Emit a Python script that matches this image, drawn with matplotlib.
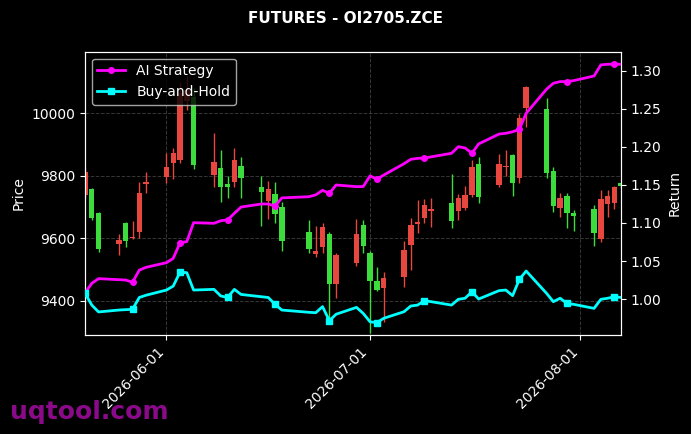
import matplotlib
matplotlib.use("Agg")
import matplotlib.pyplot as plt
import matplotlib.dates as mdates
from matplotlib.ticker import MultipleLocator, FormatStrFormatter
import numpy as np
import pandas as pd

dates = ["2026-05-20", "2026-05-21", "2026-05-22", "2026-05-25", "2026-05-26", "2026-05-27",
         "2026-05-28", "2026-05-29", "2026-06-01", "2026-06-02", "2026-06-03", "2026-06-04",
         "2026-06-05", "2026-06-08", "2026-06-09", "2026-06-10", "2026-06-11", "2026-06-12",
         "2026-06-15", "2026-06-16", "2026-06-17", "2026-06-18", "2026-06-22", "2026-06-23",
         "2026-06-24", "2026-06-25", "2026-06-26", "2026-06-29", "2026-06-30", "2026-07-01",
         "2026-07-02", "2026-07-03", "2026-07-06", "2026-07-07", "2026-07-08", "2026-07-09",
         "2026-07-10", "2026-07-13", "2026-07-14", "2026-07-15", "2026-07-16", "2026-07-17",
         "2026-07-20", "2026-07-21", "2026-07-22", "2026-07-23", "2026-07-24", "2026-07-27",
         "2026-07-28", "2026-07-29", "2026-07-30", "2026-07-31", "2026-08-03", "2026-08-04",
         "2026-08-05", "2026-08-06", "2026-08-07"]

opens = [9738, 9757, 9681, 9580, 9649, 9600, 9619, 9775, 9797, 9842, 9850, 10040,
         10053, 9802, 9826, 9774, 9781, 9831, 9763, 9720, 9742, 9701, 9620, 9550,
         9573, 9612, 9452, 9521, 9642, 9553, 9463, 9442, 9477, 9579, 9646, 9666,
         9688, 9712, 9687, 9696, 9738, 9838, 9769, 9827, 9866, 9794, 10018, 10013,
         9815, 9698, 9736, 9680, 9693, 9598, 9710, 9714, 9776]
highs = [9825, 9760, 9684, 9612, 9652, 9655, 9781, 9811, 9872, 9890, 10100, 10120,
         10080, 9938, 9882, 9799, 9889, 9860, 9799, 9784, 9779, 9717, 9657, 9639,
         9648, 9621, 9554, 9660, 9658, 9560, 9509, 9493, 9592, 9664, 9722, 9725,
         9730, 9806, 9742, 9767, 9850, 9861, 9870, 9882, 9868, 9998, 10088, 10048,
         9827, 9744, 9744, 9690, 9705, 9754, 9754, 9767, 9780]
lows = [9730, 9658, 9557, 9546, 9573, 9597, 9600, 9744, 9776, 9790, 9840, 10010,
        9822, 9765, 9717, 9729, 9765, 9730, 9639, 9660, 9650, 9560, 9553, 9539,
        9552, 9327, 9408, 9511, 9552, 9295, 9432, 9333, 9443, 9498, 9616, 9650,
        9637, 9634, 9659, 9690, 9733, 9712, 9765, 9799, 9735, 9778, 9955, 9792,
        9685, 9669, 9632, 9624, 9575, 9589, 9669, 9693, 9760]
closes = [9813, 9664, 9564, 9594, 9591, 9603, 9744, 9780, 9829, 9874, 10065, 10075,
          9835, 9844, 9765, 9763, 9850, 9794, 9747, 9757, 9677, 9592, 9566, 9559,
          9637, 9452, 9545, 9612, 9574, 9462, 9434, 9472, 9562, 9641, 9652, 9706,
          9692, 9656, 9730, 9738, 9829, 9733, 9838, 9831, 9778, 9984, 10084, 9810,
          9703, 9728, 9680, 9672, 9618, 9725, 9735, 9763, 9767]

strategy = [1.008, 1.0206, 1.0268, 1.0254, 1.025, 1.022, 1.038, 1.0417, 1.0478, 1.0535,
            1.074, 1.0755, 1.1004, 1.0996, 1.103, 1.104, 1.1127, 1.121, 1.125, 1.125,
            1.1224, 1.133, 1.1346, 1.137, 1.143, 1.139, 1.150, 1.1478, 1.148, 1.162,
            1.1575, 1.163, 1.178, 1.1838, 1.185, 1.1855, 1.187, 1.1917, 1.2004, 1.1987,
            1.1917, 1.204, 1.217, 1.218, 1.220, 1.2233, 1.2443, 1.276, 1.2838, 1.286,
            1.286, 1.2873, 1.2934, 1.308, 1.3088, 1.309, 1.3088]
buyhold = [1.0077, 0.992, 0.983, 0.9855, 0.986, 0.9865, 1.002, 1.005, 1.0118, 1.017,
           1.0355, 1.0346, 1.0118, 1.0127, 1.004, 1.002, 1.0127, 1.006, 1.003, 1.002,
           0.993, 0.9855, 0.9825, 0.982, 0.990, 0.9715, 0.980, 0.989, 0.981, 0.970,
           0.969, 0.9746, 0.9833, 0.9908, 0.992, 0.9978, 0.9965, 0.992, 0.9996, 1.001,
           1.0096, 1.000, 1.011, 1.0118, 1.0044, 1.026, 1.0368, 1.0075, 0.9965, 1.001,
           0.9943, 0.993, 0.9877, 0.9996, 1.001, 1.003, 1.002]

title = "FUTURES - OI2705.ZCE"
up_color = "#e8473f"
down_color = "#3ddc3d"

x = mdates.date2num(pd.to_datetime(dates))
o = np.array(opens, float); h = np.array(highs, float)
l = np.array(lows, float); c = np.array(closes, float)

fig = plt.figure(figsize=(6.91, 4.34), dpi=100, facecolor="black")
ax = fig.add_axes([0.123, 0.228, 0.776, 0.653])
ax.set_facecolor("black")

colors = [up_color if cc >= oo else down_color for oo, cc in zip(o, c)]
ax.vlines(x, l, h, colors=colors, linewidth=1.0, zorder=2)
bottoms = np.minimum(o, c)
heights = np.maximum(np.abs(c - o), 3.0)
ax.bar(x, heights, bottom=bottoms, width=0.8, color=colors, edgecolor=colors,
       linewidth=0, zorder=3)

ax.set_xlim(x[0], x[-1])
ax.set_ylim(9290, 10197)
ax.yaxis.set_major_locator(MultipleLocator(200))
ax.xaxis.set_major_locator(mdates.MonthLocator())
ax.xaxis.set_major_formatter(mdates.DateFormatter("%Y-%m-%d"))
ax.grid(True, linestyle="--", color="#777777", alpha=0.45, linewidth=0.7)
ax.set_axisbelow(True)
ax.set_ylabel("Price", color="white", fontsize=10)
ax.tick_params(colors="white", labelsize=10)
for lab in ax.get_xticklabels():
    lab.set_rotation(45)
    lab.set_ha("right")
for sp in ax.spines.values():
    sp.set_color("white")

ax2 = ax.twinx()
ax2.plot(x, strategy, color="#ff00ff", linewidth=2, marker="o", markersize=4,
         markevery=5, label="AI Strategy", zorder=4)
ax2.plot(x, buyhold, color="#00ffff", linewidth=2, marker="s", markersize=4,
         markevery=5, label="Buy-and-Hold", zorder=4)
ax2.set_ylim(0.9526, 1.3254)
ax2.yaxis.set_major_locator(MultipleLocator(0.05))
ax2.yaxis.set_major_formatter(FormatStrFormatter("%.2f"))
ax2.set_ylabel("Return", color="white", fontsize=10)
ax2.tick_params(colors="white", labelsize=10)
for sp in ax2.spines.values():
    sp.set_color("white")

leg = ax2.legend(loc="upper left", fontsize=10, facecolor="black", edgecolor="#cccccc",
                 framealpha=0.8)
for t in leg.get_texts():
    t.set_color("white")

fig.suptitle(title, color="white", fontsize=11, fontweight="bold", y=0.975)
fig.text(0.014, 0.035, "uqtool.com", color="#8a0a8a", fontsize=18, fontweight="bold",
         zorder=0)

fig.savefig("out.png", dpi=100, facecolor="black")
